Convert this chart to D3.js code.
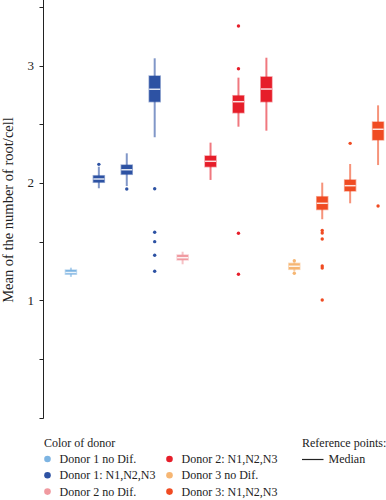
<!DOCTYPE html>
<meta charset="utf-8">
<style>
body { margin: 0; background: #fff; }
text { font-family: "Liberation Serif", "DejaVu Serif", serif; fill: #222; }
</style>
<svg width="386" height="500"></svg>
<script src="https://cdn.jsdelivr.net/npm/d3@7"></script>
<script>

var groups = ["D1 noDif", "D1 N1", "D1 N2", "D1 N3",
              "D2 noDif", "D2 N1", "D2 N2", "D2 N3",
              "D3 noDif", "D3 N1", "D3 N2", "D3 N3"];
var groupDonor = [0, 1, 1, 1, 2, 3, 3, 3, 4, 5, 5, 5];

var whiskerLow  = [1.20, 1.955, 1.974, 2.390, 1.307, 2.026, 2.480, 2.446, 1.246, 1.691, 1.827, 2.153];
var q1          = [1.222, 2.006, 2.074, 2.693, 1.344, 2.139, 2.599, 2.693, 1.264, 1.774, 1.932, 2.367];
var median      = [1.237, 2.034, 2.113, 2.799, 1.363, 2.185, 2.693, 2.801, 1.290, 1.827, 1.977, 2.458];
var q3          = [1.258, 2.062, 2.153, 2.912, 1.386, 2.230, 2.744, 2.904, 1.315, 1.883, 2.026, 2.520];
var whiskerHigh = [1.278, 2.139, 2.253, 3.063, 1.414, 2.344, 2.898, 3.068, 1.327, 2.003, 2.162, 2.662];

var outliers = [
  [],
  [2.159],
  [1.949],
  [1.951, 1.580, 1.500, 1.384, 1.247],
  [],
  [],
  [3.338, 2.974, 1.571, 1.222],
  [],
  [1.338, 1.230],
  [1.595, 1.574, 1.523, 1.292, 1.275, 1.003],
  [2.338],
  [1.804]
];

var donorNames = ["Donor 1 no Dif.", "Donor 1: N1,N2,N3", "Donor 2 no Dif.",
                  "Donor 2: N1,N2,N3", "Donor 3 no Dif.", "Donor 3: N1,N2,N3"];
var donorColors = ["#7db4e2", "#2d52a3", "#f09aa0", "#e61e2a", "#f6b673", "#f04b22"];

var yTicks = [0, 0.5, 1, 1.5, 2, 2.5, 3, 3.5];
var yLabels = [1, 2, 3];

var svg = d3.select("svg");

var x = d3.scalePoint()
  .domain(groups)
  .range([43, 406])
  .padding(1);

var y = d3.scaleLinear()
  .domain([0, 3.56])
  .range([417.6, 0]);

var axisX = 43.5;

// y axis
var axis = svg.append("g");
axis.append("line")
  .attr("x1", axisX).attr("x2", axisX)
  .attr("y1", y(3.56)).attr("y2", y(0) + 1)
  .attr("stroke", "#222").attr("stroke-width", 1);
axis.selectAll(".tick")
  .data(yTicks)
  .enter().append("line")
  .attr("x1", axisX - 4).attr("x2", axisX)
  .attr("y1", function(d) { return Math.round(y(d)) + 0.5; })
  .attr("y2", function(d) { return Math.round(y(d)) + 0.5; })
  .attr("stroke", "#222");
axis.selectAll(".lab")
  .data(yLabels)
  .enter().append("text")
  .attr("x", 34)
  .attr("y", function(d) { return y(d) + 4.5; })
  .attr("text-anchor", "end")
  .style("font-size", "13px")
  .text(function(d) { return d; });

svg.append("text")
  .attr("transform", "translate(13," + 210 + ") rotate(-90)")
  .attr("text-anchor", "middle")
  .style("font-size", "14.5px")
  .text("Mean of the number of root/cell");

// boxes
var boxW = 11;
var g = svg.append("g").selectAll("g")
  .data(groups)
  .enter().append("g")
  .attr("transform", function(d) { return "translate(" + x(d) + ",0)"; });

g.append("line")
  .attr("y1", function(d, i) { return y(whiskerHigh[i]); })
  .attr("y2", function(d, i) { return y(whiskerLow[i]); })
  .attr("stroke", function(d, i) { return donorColors[groupDonor[i]]; })
  .attr("stroke-opacity", 0.6)
  .attr("stroke-width", 2);

g.append("rect")
  .attr("x", -boxW / 2)
  .attr("width", boxW)
  .attr("y", function(d, i) { return y(q3[i]); })
  .attr("height", function(d, i) { return y(q1[i]) - y(q3[i]); })
  .attr("fill", function(d, i) { return donorColors[groupDonor[i]]; })
  .attr("stroke", function(d, i) { return donorColors[groupDonor[i]]; })
  .attr("stroke-opacity", 0.45)
  .attr("stroke-width", 1.5);

g.append("line")
  .attr("x1", -boxW / 2).attr("x2", boxW / 2)
  .attr("y1", function(d, i) { return y(median[i]); })
  .attr("y2", function(d, i) { return y(median[i]); })
  .attr("stroke", "#fff")
  .attr("stroke-opacity", 0.85)
  .attr("stroke-width", 1.5);

g.selectAll("circle")
  .data(function(d, i) { return outliers[i].map(function(v) { return { v: v, c: donorColors[groupDonor[i]] }; }); })
  .enter().append("circle")
  .attr("cy", function(d) { return y(d.v); })
  .attr("r", 1.7)
  .attr("fill", function(d) { return d.c; });

// legend
var legend = svg.append("g").style("font-size", "12px");
legend.append("text").attr("x", 44).attr("y", 446.5).text("Color of donor");

var item = legend.selectAll(".item")
  .data(donorNames)
  .enter().append("g")
  .attr("transform", function(d, i) {
    return "translate(" + (i < 3 ? 47.5 : 169.5) + "," + (459 + (i % 3) * 16.3) + ")";
  });
item.append("circle").attr("r", 3.3).attr("fill", function(d, i) { return donorColors[i]; });
item.append("text").attr("x", 12).attr("y", 4).text(function(d) { return d; });

legend.append("text").attr("x", 302).attr("y", 446.5).text("Reference points:");
legend.append("line")
  .attr("x1", 302).attr("x2", 323.5)
  .attr("y1", 459.5).attr("y2", 459.5)
  .attr("stroke", "#222").attr("stroke-width", 1.2);
legend.append("text").attr("x", 328.5).attr("y", 463).text("Median");

</script>
